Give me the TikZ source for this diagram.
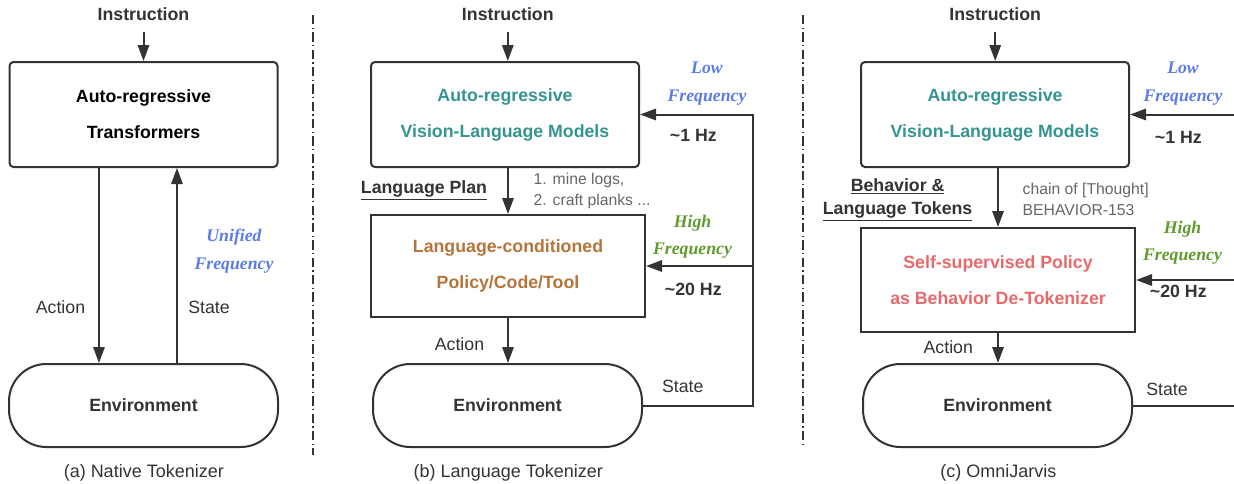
\documentclass[tikz,border=0pt]{standalone}
\usepackage{fontspec}
\setmainfont{Liberation Sans}
\newfontfamily\timesbi{Liberation Serif}
\usetikzlibrary{arrows.meta}
\definecolor{linegray}{HTML}{333333}
\definecolor{notegray}{HTML}{666666}
\definecolor{vlmteal}{HTML}{349491}
\definecolor{polbrown}{HTML}{B5743A}
\definecolor{polred}{HTML}{E8696B}
\definecolor{lowblue}{HTML}{5B7BE6}
\definecolor{highgreen}{HTML}{5E9A2E}
\tikzstyle{title} = [font=\fontsize{13.3pt}{16pt}\selectfont\bfseries, text=linegray]
\tikzstyle{model} = [rectangle, rounded corners=3pt, draw=linegray, line width=1.5pt, minimum width=201pt, minimum height=78.75pt, align=center, font=\fontsize{13.3pt}{27pt}\selectfont\bfseries]
\tikzstyle{policy} = [rectangle, draw=linegray, line width=1.5pt, minimum width=205.5pt, minimum height=76.5pt, align=center, font=\fontsize{13.3pt}{27pt}\selectfont\bfseries]
\tikzstyle{env} = [rectangle, rounded corners=28pt, draw=linegray, line width=1.5pt, minimum width=201.75pt, minimum height=62.25pt, font=\fontsize{13.3pt}{16pt}\selectfont\bfseries, text=linegray]
\tikzstyle{arrow} = [line width=1.5pt, draw=linegray, -{Triangle[length=12pt,width=8.5pt]}]
\tikzstyle{feedline} = [line width=1.5pt, draw=linegray]
\tikzstyle{divider} = [line width=1pt, draw=linegray, dash pattern=on 7pt off 2.5pt on 1pt off 2.5pt]
\tikzstyle{note} = [font=\fontsize{13.3pt}{16pt}\selectfont, text=linegray]
\tikzstyle{plan} = [font=\fontsize{13.3pt}{17.25pt}\selectfont\bfseries, text=linegray, align=center]
\tikzstyle{steps} = [font=\fontsize{11.8pt}{15.75pt}\selectfont, text=notegray, align=left, anchor=west]
\tikzstyle{freq} = [font={\fontsize{13.3pt}{20.5pt}\timesbi\bfseries\itshape}, align=center]
\tikzstyle{hz} = [font=\fontsize{13.3pt}{16pt}\selectfont\bfseries, text=linegray]
\tikzstyle{caption} = [font=\fontsize{13.5pt}{16pt}\selectfont, text=linegray]

\begin{document}
\begin{tikzpicture}[x=0.75pt, y=-0.75pt]

    \useasboundingbox (0,0) rectangle (1234,483);

    % (a) native tokenizer
    \node (insta) [title] at (143.5,14) {Instruction};
    \node (arta) [model, text=black] at (143.5,114.5) {Auto-regressive\\Transformers};
    \node (enva) [env] at (143.5,405.5) {Environment};
    \node (acta) [note] at (60.5,307) {Action};
    \node (statea) [note] at (209,307) {State};
    \node (freqa) [freq, text=lowblue] at (234,251) {Unified\\Frequency};
    \node (capa) [caption] at (143.8,473) {(a) Native Tokenizer};

    \draw [arrow, shorten <=5pt] (insta) -- (arta);
    \draw [arrow] ([xshift=-33.4pt]arta.south) -- ([xshift=-33.4pt]enva.north);
    \draw [arrow] ([xshift=25.1pt]enva.north) -- ([xshift=25.1pt]arta.south);

    \draw [divider] (313,15) -- (313,455);

    % (b) language tokenizer
    \node (instb) [title] at (507.8,14) {Instruction};
    \node (vlmb) [model, text=vlmteal] at (505,114.5) {Auto-regressive\\Vision-Language Models};
    \node (polb) [policy, text=polbrown] at (508,266) {Language-conditioned\\Policy/Code/Tool};
    \node (envb) [env] at (507.5,405.5) {Environment};
    \node (planb) [plan] at (424,190) {\underline{Language Plan}};
    \node (stepsb) [steps] at (529,190.5) {1. mine logs,\\2. craft planks ...};
    \node (actb) [note] at (459.5,344) {Action};
    \node (stateb) [note] at (682.7,386) {State};
    \node (lowb) [freq, text=lowblue] at (707,83.5) {Low\\Frequency};
    \node (hzlowb) [hz] at (693.3,135) {\textasciitilde1 Hz};
    \node (highb) [freq, text=highgreen] at (692.5,236.5) {High\\Frequency};
    \node (hzhighb) [hz] at (693.3,289) {\textasciitilde20 Hz};
    \node (capb) [caption] at (508.3,473) {(b) Language Tokenizer};
    \coordinate (busb) at (753,405.5);

    \draw [arrow, shorten <=5pt] (instb) -- (instb |- vlmb.north);
    \draw [arrow] (polb.north |- vlmb.south) -- (polb.north);
    \draw [arrow] (polb.south) -- (polb.south |- envb.north);
    \draw [arrow] (envb.east) -- (busb) |- (vlmb.east);
    \draw [arrow] (busb |- polb.east) -- (polb.east);

    \draw [divider] (803,15) -- (803,447);

    % (c) OmniJarvis
    \node (instc) [title] at (995.2,14) {Instruction};
    \node (vlmc) [model, text=vlmteal] at (995,114.5) {Auto-regressive\\Vision-Language Models};
    \node (polc) [policy, text=polred, minimum height=78pt] at (998,280) {Self-supervised Policy\\as Behavior De-Tokenizer};
    \node (envc) [env] at (997.5,405.5) {Environment};
    \node (tokc) [plan] at (897.6,199.5) {\underline{Behavior \&}\\\underline{Language Tokens}};
    \node (thoughtc) [steps] at (1018,199.5) {chain of [Thought]\\BEHAVIOR-153};
    \node (actc) [note] at (948.3,347) {Action};
    \node (statec) [note] at (1167,389) {State};
    \node (lowc) [freq, text=lowblue] at (1183,83.5) {Low\\Frequency};
    \node (hzlowc) [hz] at (1178.3,137) {\textasciitilde1 Hz};
    \node (highc) [freq, text=highgreen] at (1182.5,243) {High\\Frequency};
    \node (hzhighc) [hz] at (1178.3,291) {\textasciitilde20 Hz};
    \node (capc) [caption] at (998.3,473) {(c) OmniJarvis};
    \coordinate (busc) at (1234,405.5);

    \draw [arrow, shorten <=5pt] (instc) -- (instc |- vlmc.north);
    \draw [arrow] (polc.north |- vlmc.south) -- (polc.north);
    \draw [arrow] (polc.south) -- (polc.south |- envc.north);
    \draw [feedline] (envc.east) -- (busc);
    \draw [arrow] (busc |- vlmc.east) -- (vlmc.east);
    \draw [arrow] (busc |- polc.east) -- (polc.east);

\end{tikzpicture}
\end{document}
